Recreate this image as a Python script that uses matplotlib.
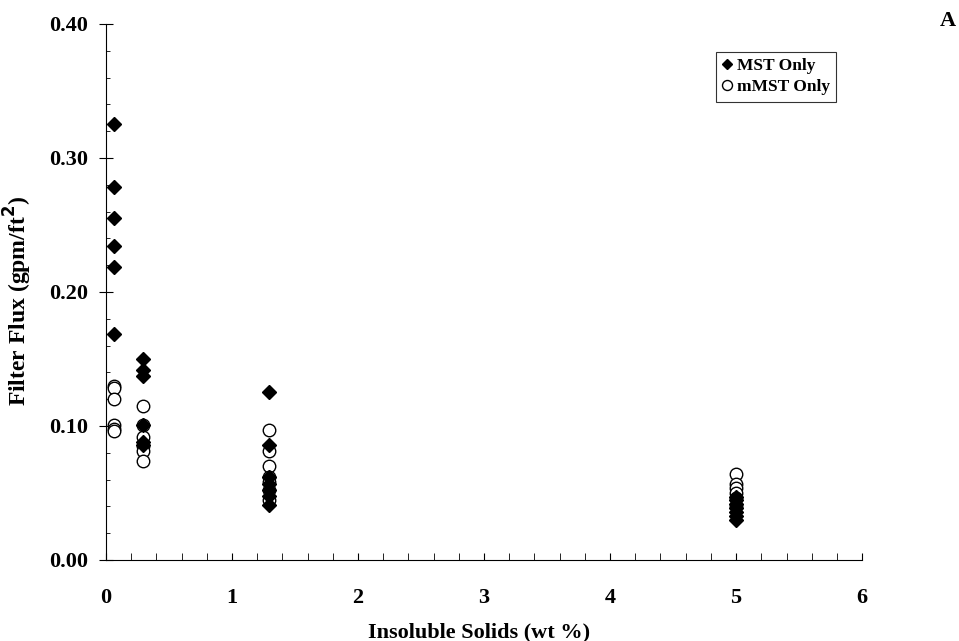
import numpy as np
import matplotlib.pyplot as plt
from matplotlib.ticker import MultipleLocator, FormatStrFormatter

plt.rcParams['font.family'] = ['Liberation Serif', 'DejaVu Serif']
plt.rcParams['font.weight'] = 'bold'

# MST Only (filled diamonds)
mst_x = [0.06] * 6 + [0.29] * 6 + [1.29] * 7 + [5.0] * 7
mst_y = [0.325, 0.278, 0.255, 0.234, 0.219, 0.169,
         0.150, 0.142, 0.137, 0.101, 0.088, 0.086,
         0.125, 0.086, 0.062, 0.057, 0.052, 0.048, 0.041,
         0.047, 0.045, 0.042, 0.039, 0.036, 0.033, 0.030]

# mMST Only (open circles)
mmst_x = [0.06] * 6 + [0.29] * 6 + [1.29] * 7 + [5.0] * 6
mmst_y = [0.130, 0.128, 0.120, 0.101, 0.098, 0.096,
          0.115, 0.101, 0.092, 0.085, 0.081, 0.074,
          0.097, 0.081, 0.070, 0.062, 0.058, 0.052, 0.045,
          0.064, 0.057, 0.054, 0.050, 0.046, 0.040]

fig = plt.figure(figsize=(9.59, 6.41), dpi=100)
ax = fig.add_axes([0.1105, 0.1264, 0.7885, 0.8362])

h2, = ax.plot(mmst_x, mmst_y, 'o', ms=9, mfc='white', mec='black', mew=1.0,
              linestyle='none', label='mMST Only')
h1, = ax.plot(mst_x, mst_y, 'D', ms=7, color='black', linestyle='none',
              label='MST Only')

ax.set_xlim(0, 6)
ax.set_ylim(0, 0.40)
ax.xaxis.set_major_locator(MultipleLocator(1))
ax.xaxis.set_minor_locator(MultipleLocator(0.2))
ax.yaxis.set_major_locator(MultipleLocator(0.1))
ax.yaxis.set_minor_locator(MultipleLocator(0.02))
ax.yaxis.set_major_formatter(FormatStrFormatter('%.2f'))

for side in ['top', 'right']:
    ax.spines[side].set_visible(False)

ax.tick_params(axis='x', which='major', direction='in', length=5, pad=20, labelsize=16)
ax.tick_params(axis='x', which='minor', direction='in', length=5)
ax.tick_params(axis='y', which='major', direction='inout', length=10, pad=8, labelsize=16)
ax.tick_params(axis='y', which='minor', direction='in', length=3)

fig.text(0.5, 0.014, 'Insoluble Solids (wt %)', fontsize=16, fontweight='bold',
         ha='center', va='center')
fig.text(0.019, 0.53, 'Filter Flux (gpm/ft$^2$)', fontsize=17, fontweight='bold',
         ha='center', va='center', rotation=90)

leg = ax.legend(handles=[h1, h2], loc='upper right', bbox_to_anchor=(0.966, 0.948),
                borderaxespad=0, fontsize=12.5, frameon=True, fancybox=False,
                markerscale=0.8, handlelength=0.6, handletextpad=0.3,
                borderpad=0.35, labelspacing=0.3)
leg.get_frame().set_edgecolor('black')
leg.get_frame().set_linewidth(0.8)

fig.text(0.9885, 0.967, 'A', fontsize=16, fontweight='bold', ha='center', va='center')

fig.savefig('out.png', dpi=100)
